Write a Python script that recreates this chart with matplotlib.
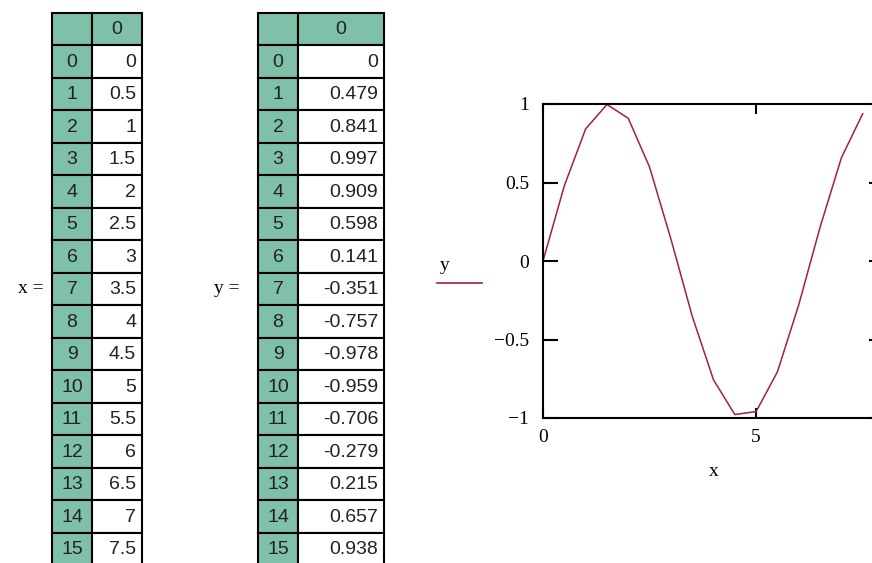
import matplotlib.pyplot as plt
from matplotlib.patches import Rectangle
from matplotlib.lines import Line2D

# data shown in the Mathcad sheet
row_idx = list(range(16))
x_vals = [0, 0.5, 1, 1.5, 2, 2.5, 3, 3.5, 4, 4.5, 5, 5.5, 6, 6.5, 7, 7.5]
y_vals = [0, 0.479, 0.841, 0.997, 0.909, 0.598, 0.141, -0.351, -0.757, -0.978,
          -0.959, -0.706, -0.279, 0.215, 0.657, 0.938]
x_text = ['0', '0.5', '1', '1.5', '2', '2.5', '3', '3.5', '4', '4.5', '5', '5.5',
          '6', '6.5', '7', '7.5']
y_text = ['0', '0.479', '0.841', '0.997', '0.909', '0.598', '0.141', '-0.351',
          '-0.757', '-0.978', '-0.959', '-0.706', '-0.279', '0.215', '0.657', '0.938']

GREEN = '#7fc0a9'
LINE = '#a3213a'
W, H = 872, 563

fig = plt.figure(figsize=(W / 100, H / 100), dpi=100)
fig.patch.set_facecolor('white')

# pixel-space canvas for the two tables
tab = fig.add_axes([0, 0, 1, 1])
tab.set_xlim(0, W)
tab.set_ylim(H, 0)
tab.axis('off')

ROW_H = 32.5
TOP = 12.5


def draw_table(x0, xdiv, x1, texts, name, name_x):
    n = len(texts) + 1
    for r in range(n):
        top = TOP + r * ROW_H
        # index column always green, header row fully green
        tab.add_patch(Rectangle((x0, top), xdiv - x0, ROW_H, fc=GREEN, ec='black', lw=1.5))
        tab.add_patch(Rectangle((xdiv, top), x1 - xdiv, ROW_H,
                                fc=GREEN if r == 0 else 'white', ec='black', lw=1.5))
        cy = top + ROW_H / 2 + 1
        if r == 0:
            tab.text((xdiv + x1) / 2, cy, '0', ha='center', va='center',
                     fontsize=14, family='Liberation Sans', color='#222222')
        else:
            tab.text((x0 + xdiv) / 2, cy, str(row_idx[r - 1]), ha='center', va='center',
                     fontsize=14, family='Liberation Sans', color='#222222')
            tab.text(x1 - 6, cy, texts[r - 1], ha='right', va='center',
                     fontsize=14, family='Liberation Sans', color='#222222')
    tab.text(name_x, TOP + 8 * ROW_H + ROW_H / 2, name + ' =', ha='right', va='center',
             fontsize=14, family='Liberation Serif')


draw_table(52, 92, 142, x_text, 'x', 44)
draw_table(258, 298, 384, y_text, 'y', 240)

# legend-like label to the left of the plot
tab.text(440, 265, 'y', ha='left', va='center', fontsize=14, family='Liberation Serif')
tab.add_line(Line2D([437, 482], [283, 283], color=LINE, lw=1.2))

# the x-y plot, right edge runs past the figure like in the screenshot
ax = fig.add_axes([543 / W, (H - 418) / H, (884 - 543) / W, (418 - 104) / H])
ax.plot(x_vals, y_vals, color=LINE, lw=1.1)
ax.set_xlim(0, 8)
ax.set_ylim(-1, 1)
for s in ax.spines.values():
    s.set_linewidth(1.5)

ax.set_yticks([-1, -0.5, 0, 0.5, 1])
ax.set_yticklabels(['\u22121', '\u22120.5', '0', '0.5', '1'])
ax.set_xticks([0, 5])
ax.tick_params(axis='y', direction='in', length=11, width=1.5, right=True, pad=10,
               labelsize=14)
ax.tick_params(axis='x', direction='in', length=7, width=1.5, top=True, pad=8,
               labelsize=14)
for lab in ax.get_xticklabels() + ax.get_yticklabels():
    lab.set_family('Liberation Serif')
ax.set_xlabel('x', fontsize=14, family='Liberation Serif', labelpad=12)

fig.savefig('out.png', dpi=100)
